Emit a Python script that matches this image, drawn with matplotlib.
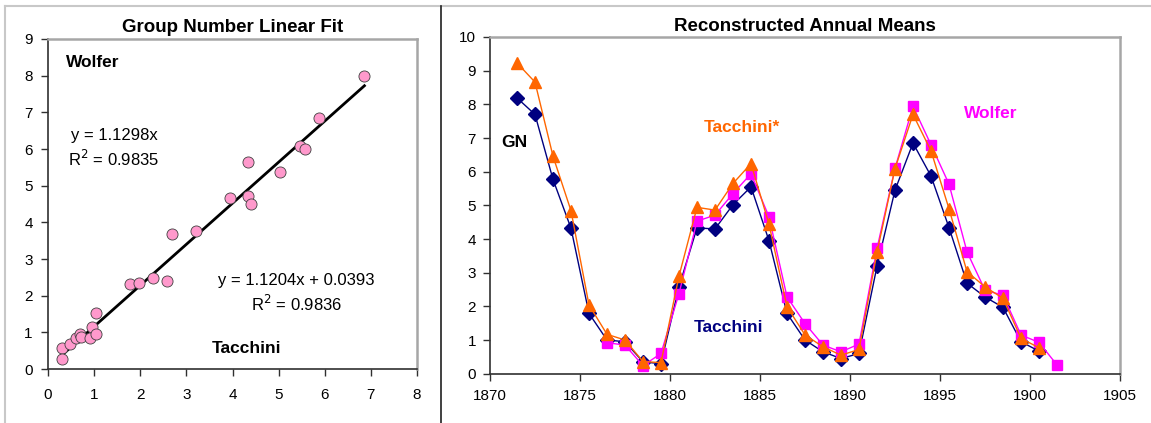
import numpy as np
import matplotlib
matplotlib.use("Agg")
import matplotlib.pyplot as plt
from matplotlib.lines import Line2D

plt.rcParams['font.family'] = ['Liberation Sans', 'DejaVu Sans']

# --- left panel: Tacchini vs Wolfer group numbers ---
tacchini_x = [0.30, 0.30, 0.47, 0.60, 0.69, 0.71, 0.91, 0.96, 1.04, 1.05,
              1.77, 1.98, 2.28, 2.59, 2.69, 3.21, 3.95, 4.33, 4.33, 4.40,
              5.03, 5.47, 5.58, 5.88, 6.86]
wolfer_y = [0.58, 0.27, 0.67, 0.84, 0.95, 0.88, 0.84, 1.15, 1.52, 0.95,
            2.32, 2.35, 2.47, 2.41, 3.67, 3.75, 4.67, 5.64, 4.72, 4.50,
            5.38, 6.09, 6.00, 6.84, 8.00]
fit_slope = 1.1204
fit_icpt = 0.0393

# --- right panel: annual means ---
years = [1871, 1872, 1873, 1874, 1875, 1876, 1877, 1878, 1879, 1880,
         1881, 1882, 1883, 1884, 1885, 1886, 1887, 1888, 1889, 1890,
         1891, 1892, 1893, 1894, 1895, 1896, 1897, 1898, 1899, 1900, 1901]
nan = np.nan
gn = [8.19, 7.70, 5.77, 4.32, 1.79, 1.00, 0.95, 0.35, 0.30, 2.58,
      4.33, 4.30, 5.02, 5.55, 3.95, 1.79, 1.00, 0.65, 0.45, 0.60,
      3.19, 5.45, 6.85, 5.87, 4.34, 2.69, 2.28, 1.97, 0.95, 0.67, nan]
tacchini_star = [9.23, 8.66, 6.46, 4.84, 2.04, 1.17, 1.00, 0.36, 0.33, 2.90,
                 4.94, 4.86, 5.65, 6.24, 4.44, 1.99, 1.15, 0.80, 0.55, 0.72,
                 3.60, 6.09, 7.70, 6.62, 4.90, 3.03, 2.58, 2.24, 1.05, 0.77, nan]
wolfer = [nan, nan, nan, nan, nan, 0.92, 0.85, 0.24, 0.60, 2.38,
          4.53, 4.71, 5.35, 5.94, 4.66, 2.28, 1.49, 0.85, 0.65, 0.88,
          3.72, 6.10, 7.94, 6.80, 5.63, 3.62, 2.48, 2.33, 1.15, 0.93, 0.26]

W, H = 1151, 423
fig = plt.figure(figsize=(W / 100, H / 100), dpi=100)

navy = '#000080'
orange = '#FF6600'
magenta = '#FF00FF'


def style_axes(ax):
    for s in ['top', 'right']:
        ax.spines[s].set_color('#a6a6a6')
        ax.spines[s].set_linewidth(1.8)
    for s in ['left', 'bottom']:
        ax.spines[s].set_color('#303030')
        ax.spines[s].set_linewidth(1.2)
    ax.tick_params(direction='out', length=5, width=1.0, color='#303030',
                   labelsize=11, top=False, right=False)


# left axes
ax1 = fig.add_axes([48 / W, 1 - 369 / H, (417 - 48) / W, (369 - 39) / H])
style_axes(ax1)
ax1.tick_params(axis='x', pad=9)
ax1.tick_params(axis='y', pad=6)
ax1.plot(tacchini_x, wolfer_y, 'o', ms=8, mfc='#FF99CC', mec='#404040',
         mew=0.6, zorder=3)
xs = np.array([min(tacchini_x), max(tacchini_x)])
ax1.plot(xs, fit_slope * xs + fit_icpt, color='black', lw=2, zorder=2)
ax1.set_xlim(0, 8)
ax1.set_ylim(0, 9)
ax1.set_xticks(range(0, 9))
ax1.set_yticks(range(0, 10))
ax1.set_title('Group Number Linear Fit', fontsize=13.5, fontweight='bold',
              pad=5)
ax1.text(0.4, 8.35, 'Wolfer', fontsize=12.5, fontweight='bold',
         ha='left', va='center')
ax1.text(4.31, 0.57, 'Tacchini', fontsize=12.5, fontweight='bold',
         ha='center', va='center')
ax1.text(1.43, 6.02, 'y = 1.1298x\nR$^2$ = 0.9835', fontsize=12,
         ha='center', va='center', linespacing=1.35)
ax1.text(5.39, 2.06, 'y = 1.1204x + 0.0393\nR$^2$ = 0.9836', fontsize=12,
         ha='center', va='center', linespacing=1.35)

# right axes
ax2 = fig.add_axes([490 / W, 1 - 373.7 / H, (1120 - 490) / W, (373.7 - 37) / H])
style_axes(ax2)
ax2.tick_params(axis='x', pad=6)
ax2.tick_params(axis='y', pad=5)
x = np.array(years) + 0.5
ax2.plot(x, gn, '-D', color=navy, lw=1.0, ms=7, zorder=3)
ax2.plot(x, wolfer, '-s', color=magenta, lw=1.0, ms=7, zorder=4)
ax2.plot(x, tacchini_star, '-^', color=orange, lw=1.0, ms=9, zorder=5)
ax2.set_xlim(1870, 1905)
ax2.set_ylim(0, 10)
ax2.set_xticks(range(1870, 1906, 5))
ax2.set_yticks(range(0, 11))
ax2.set_title('Reconstructed Annual Means', fontsize=13.5, fontweight='bold',
              pad=4)
ax2.text(1870.6, 6.88, 'GN', color='black', fontsize=12.5, fontweight='bold',
         ha='left', va='center')
ax2.text(1884.0, 7.32, 'Tacchini*', color=orange, fontsize=12.5,
         fontweight='bold', ha='center', va='center')
ax2.text(1883.25, 1.37, 'Tacchini', color=navy, fontsize=12.5,
         fontweight='bold', ha='center', va='center')
ax2.text(1897.8, 7.73, 'Wolfer', color=magenta, fontsize=12.5,
         fontweight='bold', ha='center', va='center')

# frame lines of the composite image
fig.add_artist(Line2D([4.5 / W, 1], [1 - 6.5 / H, 1 - 6.5 / H],
                      transform=fig.transFigure, color='#c8c8c8', lw=1.5))
fig.add_artist(Line2D([4.5 / W, 4.5 / W], [0, 1 - 6.5 / H],
                      transform=fig.transFigure, color='#c8c8c8', lw=1.5))
fig.add_artist(Line2D([441.5 / W, 441.5 / W], [0, 1 - 6.5 / H],
                      transform=fig.transFigure, color='#202020', lw=1.2))

fig.savefig('out.png', dpi=100)
